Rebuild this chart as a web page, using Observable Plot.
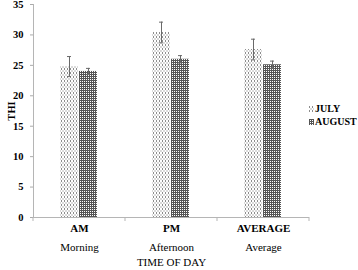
<!DOCTYPE html>
<html>
<head>
<meta charset="utf-8">
<script src="https://cdn.jsdelivr.net/npm/d3@7"></script>
<script src="https://cdn.jsdelivr.net/npm/@observablehq/plot@0.6"></script>
<style>
  html, body { margin: 0; padding: 0; background: #fff; }
  #wrap { position: relative; width: 358px; height: 270px; font-family: "Liberation Serif", "Times New Roman", serif; }
  #legend { position: absolute; left: 309px; top: 102px; font-size: 10px; font-weight: bold; line-height: 13px; color: #000; }
  #legend .item { display: flex; align-items: center; white-space: nowrap; }
  #legend svg { margin-right: 1px; }
</style>
</head>
<body>
<svg width="0" height="0" style="position:absolute">
  <defs>
    <pattern id="pJuly" patternUnits="userSpaceOnUse" width="3" height="4">
      <rect width="3" height="4" fill="#fff"/>
      <rect x="0" y="0" width="1" height="2" fill="#8c8c8c"/>
      <rect x="1.5" y="2" width="1" height="2" fill="#b4b4b4"/>
    </pattern>
    <pattern id="pAug" patternUnits="userSpaceOnUse" width="2" height="2">
      <rect width="2" height="2" fill="#fff"/>
      <rect x="0" y="0" width="2" height="1" fill="#555"/>
      <rect x="0" y="0" width="1" height="2" fill="#555"/>
    </pattern>
  </defs>
</svg>
<div id="wrap"></div>
<script>
const categories = ["AM", "PM", "AVERAGE"];
const subLabels = ["Morning", "Afternoon", "Average"];
const series = ["JULY", "AUGUST"];
const julyValues = [24.8, 30.4, 27.6];
const augustValues = [24.0, 26.0, 25.1];
const julyErrors = [1.65, 1.7, 1.7];
const augustErrors = [0.5, 0.6, 0.6];
const yTicks = [0, 5, 10, 15, 20, 25, 30, 35];
const patternFills = ["url(#pJuly)", "url(#pAug)"];

const rows = categories.flatMap((c, i) => [
  {cat: c, series: series[0], value: julyValues[i], err: julyErrors[i]},
  {cat: c, series: series[1], value: augustValues[i], err: augustErrors[i]}
]);

const plot = Plot.plot({
  width: 358,
  height: 270,
  marginLeft: 32,
  marginRight: 48,
  marginTop: 4,
  marginBottom: 53,
  style: {fontFamily: "Liberation Serif, Times New Roman, serif", fontSize: "10px", color: "#000", background: "#fff"},
  fx: {domain: categories, padding: 0, label: null},
  x: {domain: series, paddingInner: 0.05, paddingOuter: 0, insetLeft: 27, insetRight: 27, axis: null},
  y: {domain: [0, 35]},
  color: {domain: series, range: patternFills},
  marks: [
    Plot.axisY({ticks: yTicks, tickSize: 3, tickPadding: 7, stroke: "#aaa", fontWeight: "bold", fontSize: 10.5, label: "THI", labelAnchor: "center", labelOffset: 26, labelArrow: "none"}),
    Plot.barY(rows, {fx: "cat", x: "series", y: "value", fill: "series"}),
    Plot.ruleY([0], {stroke: "#b5b5b5"}),
    Plot.ruleX(rows, {fx: "cat", x: "series", y1: d => d.value - d.err, y2: d => d.value + d.err, stroke: "#6a6a6a"}),
    Plot.tickY(rows, {fx: "cat", x: "series", y: d => d.value + d.err, insetLeft: 7, insetRight: 7, stroke: "#6a6a6a"}),
    Plot.tickY(rows, {fx: "cat", x: "series", y: d => d.value - d.err, insetLeft: 7, insetRight: 7, stroke: "#6a6a6a"}),
    Plot.axisFx({anchor: "bottom", tickSize: 0, tickPadding: 7, fontWeight: "bold", fontSize: 11, label: null}),
    Plot.axisFx({anchor: "bottom", tickSize: 0, tickPadding: 26, fontSize: 11, tickFormat: c => subLabels[categories.indexOf(c)], label: "TIME OF DAY", labelAnchor: "center", labelOffset: 48, labelArrow: "none"})
  ]
});

// axis lines and boundary ticks from the library's scales
const fx = plot.scale("fx");
const yS = plot.scale("y");
const y0 = yS.apply(0);
const yTop = yS.apply(35);
const bounds = categories.map(c => fx.apply(c)).concat([fx.apply(categories[categories.length - 1]) + fx.bandwidth]);
const svg = d3.select(plot);
const g = svg.append("g").attr("stroke", "#b5b5b5");
g.append("line").attr("x1", bounds[0] + 0.5).attr("x2", bounds[0] + 0.5).attr("y1", yTop).attr("y2", y0);
g.selectAll("line.bt").data(bounds).join("line").attr("class", "bt")
  .attr("x1", d => d).attr("x2", d => d).attr("y1", y0).attr("y2", y0 + 4);

document.getElementById("wrap").appendChild(plot);

// legend
const legend = d3.select("#wrap").append("div").attr("id", "legend");
const items = legend.selectAll("div.item").data(series).join("div").attr("class", "item");
items.append("svg").attr("width", 5).attr("height", 6)
  .append("rect").attr("width", 5).attr("height", 6).attr("fill", (d, i) => patternFills[i]);
items.append("span").text(d => d);
</script>
</body>
</html>
